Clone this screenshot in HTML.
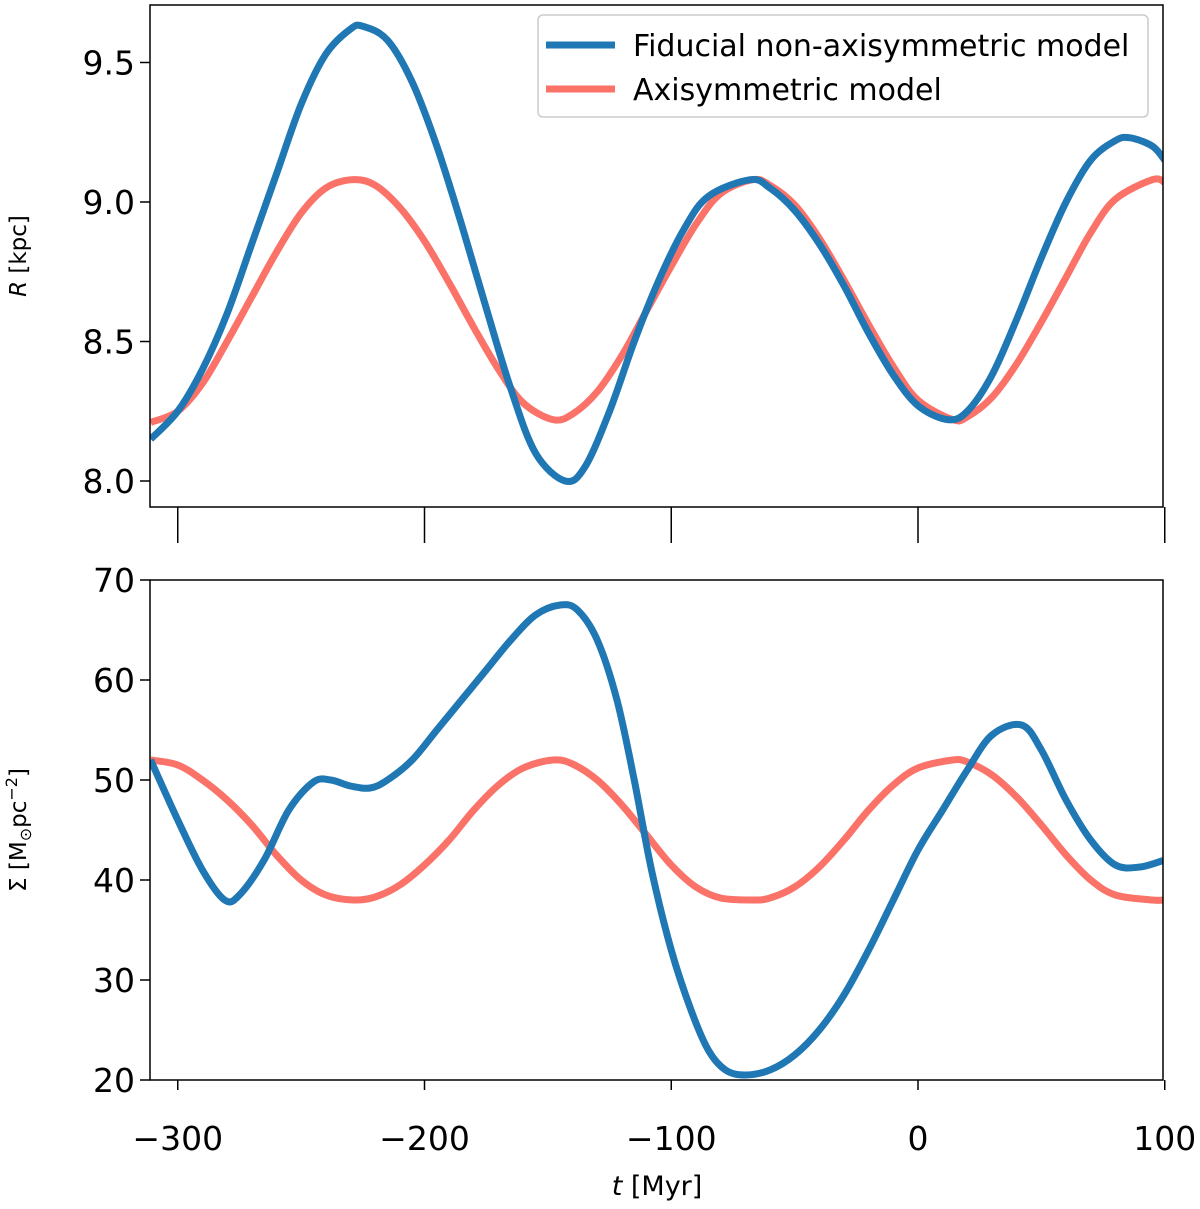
<!DOCTYPE html>
<html><head><meta charset="utf-8"><style>
body{margin:0;background:#fff}
svg text{font-family:"DejaVu Sans","Liberation Sans",sans-serif;fill:#000}
</style></head><body>
<svg id="chart" width="1200" height="1204"></svg>
<script>
const tR=[-311,-300,-290,-280,-270,-260,-250,-240,-230,-225,-215,-205,-195,-185,-175,-165,-155,-143,-135,-125,-115,-105,-95,-85,-68,-60,-50,-40,-30,-20,-10,0,12,20,30,40,50,60,70,80,86,95,100];
const blueR=[8.15,8.25,8.40,8.60,8.85,9.10,9.35,9.53,9.62,9.63,9.58,9.43,9.20,8.92,8.62,8.33,8.10,8.00,8.05,8.25,8.50,8.72,8.90,9.02,9.08,9.05,8.97,8.85,8.70,8.53,8.38,8.27,8.22,8.25,8.38,8.58,8.80,9.00,9.15,9.22,9.23,9.20,9.15];
const tRr=[-311,-300,-290,-280,-270,-260,-250,-240,-229,-220,-210,-200,-190,-180,-170,-160,-148,-140,-130,-120,-110,-100,-90,-80,-67,-60,-50,-40,-30,-20,-10,0,14,20,30,40,50,60,70,80,95,100];
const redR=[8.21,8.25,8.35,8.50,8.66,8.82,8.96,9.05,9.08,9.06,8.98,8.86,8.71,8.55,8.40,8.28,8.22,8.24,8.32,8.45,8.61,8.77,8.92,9.03,9.08,9.06,8.99,8.87,8.72,8.56,8.41,8.29,8.22,8.23,8.30,8.42,8.57,8.73,8.89,9.01,9.08,9.07];
const tS=[-311,-300,-290,-281,-275,-265,-255,-245,-238,-230,-222,-215,-205,-195,-185,-175,-165,-155,-145,-138,-130,-122,-115,-108,-100,-92,-85,-78,-70,-60,-50,-40,-30,-20,-10,0,10,20,30,42,50,60,70,80,90,100];
const blueS=[52,46,41,38,38.5,42,47,49.8,50,49.4,49.2,50,52,55,58,61,64,66.5,67.5,67,64,58,50,41,33,27,23,21,20.5,21,22.5,25,28.5,33,38,43,47,51,54.5,55.5,53,48,44,41.5,41.3,42];
const tSr=[-311,-300,-290,-280,-270,-260,-250,-240,-229,-220,-210,-200,-190,-180,-170,-160,-148,-140,-130,-120,-110,-100,-90,-80,-67,-60,-50,-40,-30,-20,-10,0,14,20,30,40,50,60,70,80,95,100];
const redS=[52,51.5,50,48,45.5,42.5,40,38.5,38,38.3,39.5,41.5,44,47,49.5,51.2,52,51.6,50,47.5,44.5,41.5,39.3,38.2,38,38.2,39.3,41.3,44,47,49.5,51.2,52,51.8,50.5,48.3,45.5,42.5,40,38.5,38,38];
const xTicks=[-300,-200,-100,0,100];
const xTickLabels=["\u2212300","\u2212200","\u2212100","0","100"];
const rTicks=[8.0,8.5,9.0,9.5];
const rTickLabels=["8.0","8.5","9.0","9.5"];
const sTicks=[20,30,40,50,60,70];
const sTickLabels=["20","30","40","50","60","70"];

const NS="http://www.w3.org/2000/svg";
const svg=document.getElementById('chart');
const L=150,Rt=1163;
const x=t=>918+(t)*2.4675;
const yR=v=>481-(v-8)*279;
const yS=v=>1080-(v-20)*10;
function el(tag,attrs,parent){const e=document.createElementNS(NS,tag);for(const k in attrs)e.setAttribute(k,attrs[k]);(parent||svg).appendChild(e);return e;}
function path(ts,vs,yf){
  const p=ts.map((t,i)=>[x(t),yf(vs[i])]);
  let d=`M${p[0][0]},${p[0][1]}`;
  for(let i=0;i<p.length-1;i++){
    const p0=p[Math.max(i-1,0)],p1=p[i],p2=p[i+1],p3=p[Math.min(i+2,p.length-1)];
    d+=` C${p1[0]+(p2[0]-p0[0])/6},${p1[1]+(p2[1]-p0[1])/6} ${p2[0]-(p3[0]-p1[0])/6},${p2[1]-(p3[1]-p1[1])/6} ${p2[0]},${p2[1]}`;
  }
  return d;
}
function panel(top,bot,name,yf,ticks,labels,series,showX){
  const g=el('g',{});
  
  
  const cid='clip'+name;
  const cp=el('clipPath',{id:cid},g);el('rect',{x:L,y:top,width:Rt-L,height:bot-top},cp);
  series.forEach(s=>{
    const p=el('path',{d:path(s[0],s[1],yf),fill:'none',stroke:s[2],'stroke-width':7,'clip-path':`url(#${cid})`},g);
    
    
  });
  el('rect',{x:L,y:top,width:Rt-L,height:bot-top,fill:'none',stroke:'#000','stroke-width':1.5},g);
  ticks.forEach((v,i)=>{
    const yy=yf(v);
    el('line',{x1:L-10,x2:L,y1:yy,y2:yy,stroke:'#000','stroke-width':1.5},g);
    const t=el('text',{x:L-15,y:yy+12,'text-anchor':'end','font-size':33},g);
    t.textContent=labels[i];
    
    
  });
  xTicks.forEach((v,i)=>{
    const xx=x(v);
    el('line',{x1:xx,x2:xx,y1:bot,y2:bot+(showX?10:36),stroke:'#000','stroke-width':1.5},g);
    if(showX){
      const t=el('text',{x:xx,y:bot+70,'text-anchor':'middle','font-size':33},g);
      t.textContent=xTickLabels[i];
      
      
    }
  });
}
panel(5,507,'top-panel',yR,rTicks,rTickLabels,[[tRr,redR,'#fa7268','red-r-line'],[tR,blueR,'#1f77b4','blue-r-line']],false);
panel(580,1080,'bottom-panel',yS,sTicks,sTickLabels,[[tSr,redS,'#fa7268','red-sigma-line'],[tS,blueS,'#1f77b4','blue-sigma-line']],true);
</script>
<div style="position:absolute;left:0;top:0;width:1200px;height:1204px;pointer-events:none">
<svg width="1200" height="1204" style="position:absolute;left:0;top:0">
 <g>
  <rect x="538" y="15" width="610" height="102" rx="5" fill="#fff" fill-opacity="0.85" stroke="#ccc" stroke-width="1.5"/>
  <line x1="546" y1="45" x2="615" y2="45" stroke="#1f77b4" stroke-width="7"/>
  <text x="633" y="56" font-size="30">Fiducial non-axisymmetric model</text>
  <line x1="546" y1="89" x2="615" y2="89" stroke="#fa7268" stroke-width="7"/>
  <text x="633" y="100" font-size="30">Axisymmetric model</text>
 </g>
 <text transform="translate(26,256) rotate(-90)" text-anchor="middle" font-size="23"><tspan font-style="italic">R</tspan> [kpc]</text>
 <text transform="translate(26,830) rotate(-90)" text-anchor="middle" font-size="23">Σ [M<tspan font-size="16" dy="5">⊙</tspan><tspan dy="-5">pc</tspan><tspan font-size="16" dy="-9">−2</tspan><tspan dy="9">]</tspan></text>
 <text x="657" y="1195" text-anchor="middle" font-size="27"><tspan font-style="italic">t</tspan> [Myr]</text>
</svg></div>
</body></html>
